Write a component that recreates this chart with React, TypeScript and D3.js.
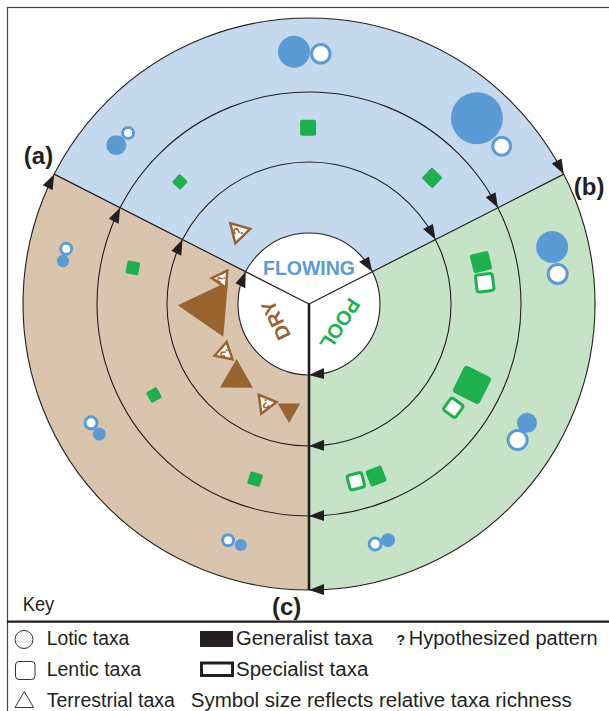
import React from 'react';
import * as d3 from 'd3';

const W = 609;
const H = 711;

// habitat sectors, angles in degrees clockwise from 12 o'clock
const sectorNames = ['FLOWING', 'POOL', 'DRY'];
const sectorStart = [-63, 63, 180];
const sectorEnd = [63, 180, 297];
const sectorFill = ['#c4d8ee', '#c6e3c8', '#d9c5ae'];
const sectorText = ['#5b9bd5', '#1fb04e', '#9a6430'];
const boundaryAngles = [-63, 63, 180];
const boundaryLabels = ['(a)', '(b)', '(c)'];
const ringLevels = [0, 1, 2, 3];

// [angle, ring position, richness]
const loticGeneralist: [number, number, number][] = [
  [-3.4, 2.55, 6.4], [42.1, 2.52, 10.4], [-50.5, 2.51, 4], [-80.1, 2.51, 2.5],
  [-121.8, 2.47, 2.6], [-164.2, 2.52, 2.4], [76.8, 2.51, 6.4], [118.6, 2.49, 4],
  [161.5, 2.5, 2.8],
];
const loticSpecialist: [number, number, number][] = [
  [2.7, 2.52, 4.3], [50.7, 2.5, 4.2], [-46.6, 2.5, 2.8], [-77.2, 2.5, 2.8],
  [-118.6, 2.49, 3], [-161.1, 2.51, 2.8], [83.1, 2.52, 4.4], [123.1, 2.5, 4.4],
  [164.6, 2.5, 3],
];
const lenticGeneralist: [number, number, number][] = [
  [-0.3, 1.49, 3.2], [-46.6, 1.51, 2.3], [44.3, 1.49, 3], [-78.4, 1.54, 2.6],
  [-120.4, 1.54, 2.4], [-162.9, 1.59, 2.6], [76.3, 1.5, 3.8], [116.4, 1.57, 6],
  [158.7, 1.61, 3.4],
];
const lenticSpecialist: [number, number, number][] = [
  [83.1, 1.5, 4], [125.7, 1.51, 3.6], [165.2, 1.59, 3.6],
];
// [angle, ring position, richness, tilt]
const terrestrialGeneralist: [number, number, number, number][] = [
  [-92.2, 0.4, 11.1, 7], [-135.6, 0.46, 6.6, 16], [-169.3, 0.52, 4.5, -11],
];
const terrestrialHypothesized: [number, number, number, number][] = [
  [-44.3, 0.42, 5, 0], [-73.9, 0.28, 4.3, -12], [-119.8, 0.37, 4.5, 11], [-156.4, 0.53, 4.7, -1],
];

const shapeLabels = ['Lotic taxa', 'Lentic taxa', 'Terrestrial taxa'];
const styleLabels = ['Generalist taxa', 'Specialist taxa'];

const BLUE = '#5b9bd5';
const GREEN = '#1fb04e';
const BROWN = '#9a6430';
const INK = '#231f20';
const FONT = "'Liberation Sans', Arial, Helvetica, sans-serif";

const cx = 309;
const cy = 304;
const rScale = d3.scaleLinear().domain(ringLevels).range([71, 142, 212, 286]);
const sizeScale = d3.scaleLinear().domain([0, 10]).range([0, 50]);
const rad = (deg: number) => (deg * Math.PI) / 180;

const polar = (angle: number, pos: number): [number, number] => {
  const r = rScale(pos);
  return [cx + r * Math.sin(rad(angle)), cy - r * Math.cos(rad(angle))];
};

const trianglePath = (side: number, rot: number) => {
  const R = side / Math.sqrt(3);
  const pts = [0, 120, 240].map(k => [R * Math.sin(rad(rot + k)), -R * Math.cos(rad(rot + k))] as [number, number]);
  return d3.line()(pts) + 'Z';
};

const arc = d3.arc<any>();

export default function App() {
  const outerR = rScale(3);
  const innerR = rScale(0);
  const arrowLen = 15;
  const arrowHalf = 5.5;

  return (
    <svg width={W} height={H} style={{ position: 'absolute', left: 0, top: 0, background: '#fff' }} fontFamily={FONT}>
      <rect x={0} y={0} width={W} height={H} fill="#fff" />
      {/* frame */}
      <rect x={7.5} y={7.5} width={W + 20} height={H + 20} fill="none" stroke="#444" strokeWidth={1.2} />
      <line x1={7} x2={W} y1={621.7} y2={621.7} stroke={INK} strokeWidth={2.2} />

      {/* sectors */}
      <g transform={`translate(${cx},${cy})`}>
        {sectorNames.map((n, i) => (
          <path key={n} fill={sectorFill[i]}
            d={arc({ innerRadius: innerR, outerRadius: outerR, startAngle: rad(sectorStart[i]), endAngle: rad(sectorEnd[i]) }) || ''} />
        ))}
        <circle r={innerR} fill="#fff" />
        {ringLevels.map(l => (
          <circle key={l} r={rScale(l)} fill="none" stroke={INK} strokeWidth={1.1} />
        ))}
        {boundaryAngles.map((a, i) => (
          <line key={a} x1={0} y1={0} x2={outerR * Math.sin(rad(a))} y2={-outerR * Math.cos(rad(a))}
            stroke={INK} strokeWidth={i === 2 ? 2.6 : 1.2} />
        ))}
        {/* flow arrows, clockwise */}
        {boundaryAngles.map(a => ringLevels.map(l => {
          const R = rScale(l);
          const by = -Math.sqrt(R * R - arrowLen * arrowLen);
          return (
            <path key={`${a}-${l}`} transform={`rotate(${a})`} fill={INK}
              d={`M0,${-R} L${-arrowLen},${by - arrowHalf} L${-arrowLen},${by + arrowHalf} Z`} />
          );
        }))}
        {/* habitat names */}
        {sectorNames.map((n, i) => {
          const mid = i === 0 ? 0 : i === 1 ? 123 : 244;
          return (
            <text key={n} transform={`rotate(${mid})`} x={0} y={i === 0 ? -29 : -30} textAnchor="middle"
              fontWeight="bold" fontSize={i === 0 ? 19.5 : 20} fill={sectorText[i]}>{n}</text>
          );
        })}
      </g>

      {/* lotic taxa (circles) */}
      {loticGeneralist.map((d, i) => {
        const [x, y] = polar(d[0], d[1]);
        return <circle key={`lg${i}`} cx={x} cy={y} r={sizeScale(d[2]) / 2} fill={BLUE} />;
      })}
      {loticSpecialist.map((d, i) => {
        const [x, y] = polar(d[0], d[1]);
        return <circle key={`ls${i}`} cx={x} cy={y} r={sizeScale(d[2]) / 2 - 1.5} fill="#fff" stroke={BLUE} strokeWidth={3} />;
      })}

      {/* lentic taxa (squares) */}
      {lenticGeneralist.map((d, i) => {
        const [x, y] = polar(d[0], d[1]);
        const s = sizeScale(d[2]);
        return <rect key={`ng${i}`} transform={`translate(${x},${y}) rotate(${d[0]})`} x={-s / 2} y={-s / 2}
          width={s} height={s} rx={Math.max(1.5, s * 0.12)} fill={GREEN} />;
      })}
      {lenticSpecialist.map((d, i) => {
        const [x, y] = polar(d[0], d[1]);
        const s = sizeScale(d[2]) - 3;
        return <rect key={`ns${i}`} transform={`translate(${x},${y}) rotate(${d[0]})`} x={-s / 2} y={-s / 2}
          width={s} height={s} rx={2.5} fill="#fff" stroke={GREEN} strokeWidth={3} />;
      })}

      {/* terrestrial taxa (triangles) */}
      {terrestrialGeneralist.map((d, i) => {
        const [x, y] = polar(d[0], d[1]);
        return <path key={`tg${i}`} transform={`translate(${x},${y})`} d={trianglePath(sizeScale(d[2]), d[0] + d[3])} fill={BROWN} />;
      })}
      {terrestrialHypothesized.map((d, i) => {
        const [x, y] = polar(d[0], d[1]);
        const s = sizeScale(d[2]);
        const rot = d[0] + d[3];
        return (
          <g key={`th${i}`} transform={`translate(${x},${y})`}>
            <path d={trianglePath(s - 4.3, rot)} fill="#fff" stroke={BROWN} strokeWidth={2.5} strokeLinejoin="miter" />
            <text transform={`rotate(${rot - 30})`} y={s * 0.17} textAnchor="middle" fontSize={s * 0.55}
              fontWeight="bold" fill={BROWN}>?</text>
          </g>
        );
      })}

      {/* boundary labels */}
      {boundaryAngles.map((a, i) => {
        const [x, y] = polar(a, 3);
        const dx = [-1, 10, -37][i];
        const dy = [-10, 21, 25][i];
        return (
          <text key={a} x={x + dx} y={y + dy} textAnchor={i === 0 ? 'end' : 'start'} fontWeight="bold"
            fontSize={24} fill={INK}>{boundaryLabels[i]}</text>
        );
      })}

      {/* key */}
      <text x={22.7} y={610.7} fontSize={20} fill={INK} textLength={31.6} lengthAdjust="spacingAndGlyphs">Key</text>
      <circle cx={24} cy={639.5} r={9} fill="#fff" stroke="#333" strokeWidth={1} />
      <rect x={15.5} y={661.5} width={19.5} height={18} rx={3.5} fill="#fff" stroke="#333" strokeWidth={1} />
      <path d="M24.3,691.5 L15,707.5 L33.6,707.5 Z" fill="#fff" stroke="#333" strokeWidth={1} />
      {shapeLabels.map((t, i) => (
        <text key={t} x={46.7} y={[645, 675.7, 706.7][i]} fontSize={19.5} fill={INK}
          textLength={[82.6, 94.3, 128.3][i]} lengthAdjust="spacingAndGlyphs">{t}</text>
      ))}
      <rect x={200} y={631} width={33} height={16} fill={INK} />
      <rect x={201.5} y={663} width={31} height={12.5} fill="#fff" stroke={INK} strokeWidth={3} />
      {styleLabels.map((t, i) => (
        <text key={t} x={236} y={[645, 675.7][i]} fontSize={19.5} fill={INK}
          textLength={[136.7, 132.3][i]} lengthAdjust="spacingAndGlyphs">{t}</text>
      ))}
      <text x={396.5} y={645} fontSize={14} fontWeight="bold" fill={INK}>?</text>
      <text x={408.7} y={645} fontSize={19.5} fill={INK} textLength={189} lengthAdjust="spacingAndGlyphs">Hypothesized pattern</text>
      <text x={190.7} y={706.7} fontSize={19.5} fill={INK} textLength={381} lengthAdjust="spacingAndGlyphs">
        Symbol size reflects relative taxa richness
      </text>
    </svg>
  );
}
